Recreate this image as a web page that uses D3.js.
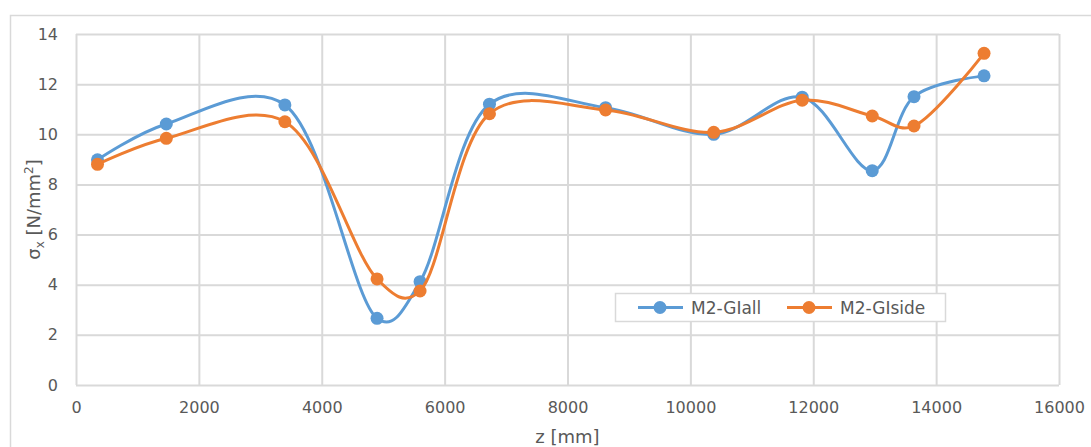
<!DOCTYPE html>
<html><head><meta charset="utf-8">
<script src="https://cdn.jsdelivr.net/npm/d3@7"></script>
<style>body{margin:0;background:#fff;} text{font-family:"DejaVu Sans",sans-serif;}</style>
</head><body><svg id="c" width="1091" height="447"></svg>
<script>
const zValues = [350, 1470, 3400, 4900, 5600, 6730, 8620, 10380, 11820, 12960, 13640, 14780];
const glall   = [8.98, 10.41, 11.17, 2.66, 4.12, 11.20, 11.06, 10.00, 11.48, 8.55, 11.50, 12.33];
const glside  = [8.80, 9.84, 10.50, 4.23, 3.75, 10.82, 10.97, 10.08, 11.36, 10.73, 10.33, 13.23];
const seriesNames = ["M2-GIall", "M2-GIside"];
const xTicks = [0,2000,4000,6000,8000,10000,12000,14000,16000];
const yTicks = [0,2,4,6,8,10,12,14];
const colors = ["#5B9BD5", "#ED7D31"];

const svg = d3.select("#c");
const L = 76, R = 1059, T = 34, B = 385;
const x = d3.scaleLinear().domain([0,16000]).range([L,R]);
const y = d3.scaleLinear().domain([0,14]).range([B,T]);

svg.append("path").attr("d","M10.5,447 V15.5 H1091").attr("fill","none").attr("stroke","#D9D9D9").attr("stroke-width",1.5);

const gx = svg.append("g").attr("transform",`translate(0,${B})`)
  .call(d3.axisBottom(x).tickValues(xTicks).tickSize(-(B-T)).tickFormat(d=>d).tickPadding(14));
const gy = svg.append("g").attr("transform",`translate(${L},0)`)
  .call(d3.axisLeft(y).tickValues(yTicks).tickSize(-(R-L)).tickFormat(d=>d).tickPadding(18));
[gx,gy].forEach(g=>{
  g.select(".domain").remove();
  g.selectAll(".tick line").attr("stroke","#D9D9D9").attr("stroke-width",2);
  g.selectAll(".tick text").attr("fill","#595959").attr("font-size",16);
});
gx.selectAll(".tick text").attr("dy","0.85em");

svg.append("text").attr("x",(L+R)/2).attr("y",443).attr("text-anchor","middle")
  .attr("fill","#595959").attr("font-size",18).text("z [mm]");
const yl = svg.append("text").attr("transform",`translate(40,${(T+B)/2}) rotate(-90)`)
  .attr("text-anchor","middle").attr("fill","#595959").attr("font-size",18);
yl.append("tspan").text("σ");
yl.append("tspan").attr("font-size",12).attr("dy",4).text("x");
yl.append("tspan").attr("dy",-4).text(" [N/mm");
yl.append("tspan").attr("font-size",12).attr("dy",-7).text("2");
yl.append("tspan").attr("dy",7).text("]");

const line = d3.line().x((d,i)=>x(zValues[i])).y(d=>y(d)).curve(d3.curveCatmullRom.alpha(0.25));
[glall, glside].forEach((s,k)=>{
  svg.append("path").attr("d",line(s)).attr("fill","none").attr("stroke",colors[k]).attr("stroke-width",3);
  svg.append("g").selectAll("circle").data(s).join("circle")
    .attr("cx",(d,i)=>x(zValues[i])).attr("cy",d=>y(d)).attr("r",6.5).attr("fill",colors[k]);
});

const lg = svg.append("g");
lg.append("rect").attr("x",615.5).attr("y",293.5).attr("width",330).attr("height",28)
  .attr("fill","#fff").attr("stroke","#D9D9D9").attr("stroke-width",1.5);
const lx = [638, 787];
seriesNames.forEach((n,k)=>{
  lg.append("line").attr("x1",lx[k]).attr("x2",lx[k]+45).attr("y1",307.5).attr("y2",307.5)
    .attr("stroke",colors[k]).attr("stroke-width",3);
  lg.append("circle").attr("cx",lx[k]+22).attr("cy",307.5).attr("r",6.5).attr("fill",colors[k]);
  lg.append("text").attr("x",lx[k]+53).attr("y",314).attr("fill","#595959").attr("font-size",17).text(n);
});
</script></body></html>
